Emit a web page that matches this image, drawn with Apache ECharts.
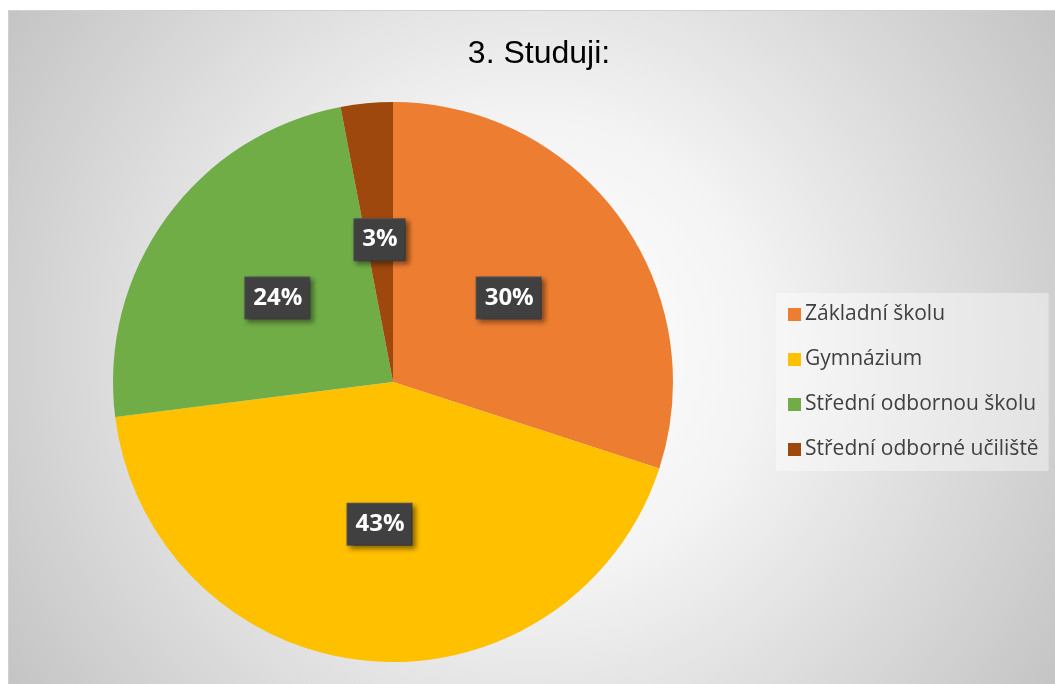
<!DOCTYPE html>
<html>
<head>
<meta charset="utf-8">
<script src="https://cdn.jsdelivr.net/npm/echarts@6/dist/echarts.min.js"></script>
<style>
  html, body { margin: 0; padding: 0; background: #fff; }
  #chart {
    position: absolute;
    left: 8px;
    top: 10px;
    width: 1047px;
    height: 674px;
    border-top: 1px solid #d0d0d0;
    border-left: 1px solid #d0d0d0;
    box-sizing: border-box;
  }
</style>
</head>
<body>
<div id="chart"></div>
<script>
// typy škol a podíl odpovědí v %
const categories = ['Základní školu', 'Gymnázium', 'Střední odbornou školu', 'Střední odborné učiliště']
const shares = [30, 43, 24, 3]

const myChart = echarts.init(document.getElementById('chart'))

const option = {
  backgroundColor: {
    type: 'radial',
    x: 0.5,
    y: 0.5,
    r: 0.95,
    colorStops: [
      { offset: 0, color: '#ffffff' },
      { offset: 0.35, color: '#f4f4f4' },
      { offset: 1, color: '#c2c2c2' }
    ]
  },
  color: ['#ED7D31', '#FFC000', '#70AD47', '#9E480E'],
  title: {
    text: '3. Studuji:',
    left: 525,
    top: 22,
    textAlign: 'center',
    textStyle: {
      fontFamily: 'Liberation Sans, Arial, sans-serif',
      fontSize: 32,
      fontWeight: 'normal',
      color: '#000'
    }
  },
  legend: {
    orient: 'vertical',
    left: 767,
    top: 282,
    padding: [11, 10, 11, 12],
    backgroundColor: 'rgba(255, 255, 255, 0.4)',
    itemWidth: 13,
    itemHeight: 13,
    itemGap: 24,
    icon: 'rect',
    data: categories,
    textStyle: {
      fontFamily: 'Open Sans, sans-serif',
      fontSize: 21,
      lineHeight: 21,
      color: '#404040',
      padding: [0, 0, 0, -1]
    }
  },
  series: [
    {
      type: 'pie',
      center: [384, 371],
      radius: 280,
      startAngle: 90,
      clockwise: true,
      avoidLabelOverlap: false,
      emphasis: { disabled: true },
      itemStyle: { borderWidth: 0 },
      label: {
        show: true,
        position: 'inside',
        formatter: '{c}%',
        fontFamily: 'Open Sans, sans-serif',
        fontSize: 24,
        fontWeight: 'bold',
        color: '#fff',
        lineHeight: 24,
        backgroundColor: '#404040',
        borderColor: '#555555',
        borderWidth: 1,
        padding: [9, 7, 8, 8],
        shadowColor: 'rgba(0, 0, 0, 0.45)',
        shadowBlur: 5,
        shadowOffsetX: 3,
        shadowOffsetY: 3
      },
      labelLine: { show: false },
      data: categories.map((name, i) => ({ name, value: shares[i] }))
    }
  ]
}

myChart.setOption(option)

window.addEventListener('resize', () => {
  myChart.resize()
})
</script>
</body>
</html>
